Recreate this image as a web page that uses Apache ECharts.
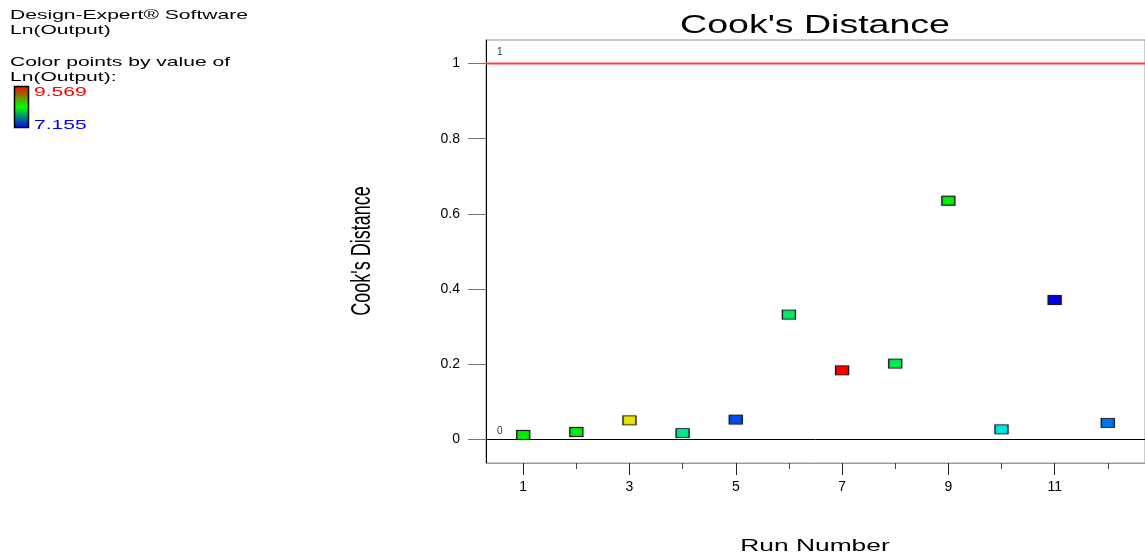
<!DOCTYPE html>
<html>
<head>
<meta charset="utf-8">
<title>Cook's Distance</title>
<script src="https://cdn.jsdelivr.net/npm/echarts@6/dist/echarts.min.js"></script>
<style>
  html, body { margin: 0; padding: 0; background: #fff; }
  #chart { width: 1145px; height: 556px; }
</style>
</head>
<body>
<div id="chart"></div>
<script>
// Run order of the experiment
const runs = [1, 2, 3, 4, 5, 6, 7, 8, 9, 10, 11, 12];
// Cook's distance of each run
const cooksDistance = [0.012, 0.020, 0.051, 0.017, 0.053, 0.332, 0.184, 0.202, 0.635, 0.027, 0.371, 0.044];
// Response value used to colour each point
const lnOutput = [8.36, 8.33, 8.97, 8.00, 7.36, 8.10, 9.569, 8.15, 8.37, 7.76, 7.155, 7.46];

// Colour scale limits for Ln(Output)
const lnOutputMin = 7.155;
const lnOutputMax = 9.569;

// Axis ticks
const xMajorTicks = [1, 3, 5, 7, 9, 11];
const xMinorTicks = [2, 4, 6, 8, 10, 12];
const yTicks = [0, 0.2, 0.4, 0.6, 0.8, 1];

// Reference lines: Cook's distance of 1 (flag level) and 0 (baseline)
const limitLine = 1;
const baseLine = 0;

const FONT = "'Liberation Sans', Arial, sans-serif";
const STRETCH = 1.55;
const LEGEND_STRETCH = 1.62;

const chart = echarts.init(document.getElementById('chart'), null, { renderer: 'canvas' });

const points = runs.map((r, i) => [r, cooksDistance[i], lnOutput[i]]);

const xRange = { min: 0.3, max: 12.7 };
const yRange = { min: -0.0625, max: 1.0625 };

// horizontal reference line across the whole x range, labelled at its left end
function refLineSeries(value, color, width, labelRise) {
  return {
    type: 'line',
    xAxisIndex: 0, yAxisIndex: 0,
    silent: true,
    z: 2,
    symbol: 'circle',
    symbolSize: 0,
    showSymbol: true,
    lineStyle: { color: color, width: width, type: 'solid', opacity: 1 },
    itemStyle: { color: color },
    emphasis: { disabled: true },
    data: [
      { value: [xRange.min, value],
        label: { show: true, formatter: String(value), position: [11, -labelRise],
          fontSize: 10, color: '#333', fontFamily: FONT } },
      { value: [xRange.max, value] }
    ]
  };
}

const option = {
  animation: false,
  backgroundColor: '#ffffff',
  grid: {
    left: 486, top: 40, right: -2, bottom: 93,
    show: true, borderColor: '#9a9a9a', borderWidth: 1, backgroundColor: 'transparent'
  },
  xAxis: [
    {
      type: 'value', min: xRange.min, max: xRange.max, position: 'bottom',
      axisLine: { show: true, onZero: false, lineStyle: { color: '#9a9a9a', width: 1 } },
      axisTick: { show: true, inside: false, customValues: xMajorTicks, length: 12, lineStyle: { color: '#222', width: 1 } },
      axisLabel: { show: true, customValues: xMajorTicks, margin: 17, fontSize: 14, color: '#000', fontFamily: FONT },
      splitLine: { show: false }
    },
    {
      type: 'value', min: xRange.min, max: xRange.max, position: 'bottom',
      axisLine: { show: false, onZero: false },
      axisTick: { show: true, inside: false, customValues: xMinorTicks, length: 6, lineStyle: { color: '#444', width: 1 } },
      axisLabel: { show: false },
      splitLine: { show: false }
    }
  ],
  yAxis: {
    type: 'value', min: yRange.min, max: yRange.max,
    axisLine: { show: true, onZero: false, lineStyle: { color: '#000', width: 1 } },
    axisTick: { show: true, inside: false, customValues: yTicks, length: 18, lineStyle: { color: '#777', width: 1 } },
    axisLabel: {
      show: true, customValues: yTicks, margin: 26, fontSize: 14, color: '#000', fontFamily: FONT,
      formatter: v => String(Math.round(v * 10) / 10)
    },
    splitLine: { show: false }
  },
  visualMap: {
    type: 'continuous', show: false, seriesIndex: 0, dimension: 2,
    min: lnOutputMin, max: lnOutputMax,
    inRange: { color: ['#0000f0', '#00e6e6', '#00ee00', '#e8e800', '#ff0000'] }
  },
  series: [
    {
      type: 'scatter',
      xAxisIndex: 0, yAxisIndex: 0,
      data: points,
      symbol: 'rect',
      symbolSize: [13, 9],
      z: 5,
      itemStyle: { borderColor: '#1a1a1a', borderWidth: 1, opacity: 1,
        shadowColor: 'rgba(0,0,0,0.35)', shadowBlur: 1.5 }
    },
    refLineSeries(limitLine, '#ff4040', 2, 16),
    refLineSeries(baseLine, '#000000', 1, 13)
  ],
  graphic: [
    // Title and axis names
    { type: 'text', x: 815, y: 26, scaleX: 1.5, silent: true,
      style: { text: "Cook's Distance", fontSize: 25, fontFamily: FONT, fill: '#000',
        align: 'center', verticalAlign: 'middle' } },
    { type: 'text', x: 815, y: 546, scaleX: STRETCH, silent: true,
      style: { text: 'Run Number', fontSize: 17, fontFamily: FONT, fill: '#000',
        align: 'center', verticalAlign: 'middle' } },
    { type: 'text', x: 362, y: 251, rotation: Math.PI / 2, scaleY: STRETCH, silent: true,
      style: { text: "Cook's Distance", fontSize: 18, fontFamily: FONT, fill: '#000',
        align: 'center', verticalAlign: 'middle' } },
    // Software note and colour legend
    { type: 'text', x: 10, y: 15, scaleX: LEGEND_STRETCH, silent: true,
      style: { text: 'Design-Expert® Software', fontSize: 13, fontFamily: FONT, fill: '#000', align: 'left', verticalAlign: 'middle' } },
    { type: 'text', x: 10, y: 30, scaleX: LEGEND_STRETCH, silent: true,
      style: { text: 'Ln(Output)', fontSize: 13, fontFamily: FONT, fill: '#000', align: 'left', verticalAlign: 'middle' } },
    { type: 'text', x: 10, y: 62, scaleX: LEGEND_STRETCH, silent: true,
      style: { text: 'Color points by value of', fontSize: 13, fontFamily: FONT, fill: '#000', align: 'left', verticalAlign: 'middle' } },
    { type: 'text', x: 10, y: 77, scaleX: LEGEND_STRETCH, silent: true,
      style: { text: 'Ln(Output):', fontSize: 13, fontFamily: FONT, fill: '#000', align: 'left', verticalAlign: 'middle' } },
    { type: 'rect', silent: true,
      shape: { x: 14.5, y: 86.5, width: 14, height: 41 },
      style: {
        fill: new echarts.graphic.LinearGradient(0, 0, 0, 1, [
          { offset: 0, color: '#ff0000' },
          { offset: 0.5, color: '#00ff00' },
          { offset: 1, color: '#0000ff' }
        ]),
        stroke: '#000', lineWidth: 1.5
      } },
    { type: 'text', x: 34, y: 92, scaleX: LEGEND_STRETCH, silent: true,
      style: { text: lnOutputMax.toFixed(3), fontSize: 13, fontFamily: FONT, fill: '#ff0000', align: 'left', verticalAlign: 'middle' } },
    { type: 'text', x: 34, y: 125, scaleX: LEGEND_STRETCH, silent: true,
      style: { text: lnOutputMin.toFixed(3), fontSize: 13, fontFamily: FONT, fill: '#0000ff', align: 'left', verticalAlign: 'middle' } }
  ]
};

chart.setOption(option);
</script>
</body>
</html>
